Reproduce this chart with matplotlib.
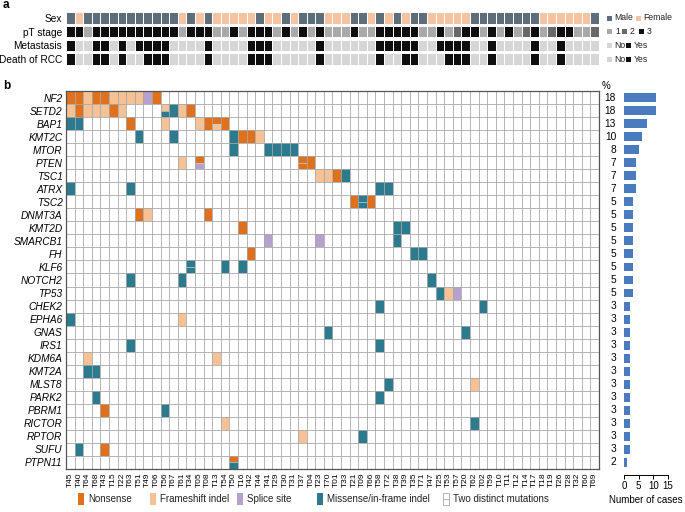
import numpy as np
import matplotlib
matplotlib.use('Agg')
import matplotlib.pyplot as plt
from matplotlib.patches import Rectangle
from matplotlib.transforms import blended_transform_factory

plt.rcParams['font.family'] = ['Liberation Sans', 'DejaVu Sans']

W, H = 685, 512

samples = ['T45', 'T40', 'T64', 'T68', 'T43', 'T15', 'T22', 'T63', 'T51', 'T49',
           'T06', 'T56', 'T67', 'T61', 'T34', 'T05', 'T08', 'T13', 'T54', 'T50',
           'T16', 'T42', 'T44', 'T41', 'T29', 'T30', 'T31', 'T37', 'T04', 'T23',
           'T70', 'T01', 'T33', 'T21', 'T09', 'T66', 'T58', 'T72', 'T38', 'T39',
           'T35', 'T71', 'T47', 'T25', 'T53', 'T57', 'T20', 'T62', 'T02', 'T59',
           'T10', 'T11', 'T12', 'T14', 'T17', 'T18', 'T19', 'T26', 'T28', 'T32',
           'T60', 'T69']

genes = ['NF2', 'SETD2', 'BAP1', 'KMT2C', 'MTOR', 'PTEN', 'TSC1', 'ATRX', 'TSC2',
         'DNMT3A', 'KMT2D', 'SMARCB1', 'FH', 'KLF6', 'NOTCH2', 'TP53', 'CHEK2',
         'EPHA6', 'GNAS', 'IRS1', 'KDM6A', 'KMT2A', 'MLST8', 'PARK2', 'PBRM1',
         'RICTOR', 'RPTOR', 'SUFU', 'PTPN11']
pct = [18, 18, 13, 10, 8, 7, 7, 7, 5, 5, 5, 5, 5, 5, 5, 5, 3, 3, 3, 3, 3, 3, 3,
       3, 3, 3, 3, 3, 2]

# clinical annotation, one char per sample
sex = 'MFMMMMMMMMMMMFMFMFFFFFMFFMFMMMFFFMMFMFMFMMFFFFFMMMMMMMMFFFFFFM'
stage = '33133333333331333113133313131311131133333113123313131231233112'
metastasis = '10011010111100001000011100000100000011111001111001000010010000'
death = '10011010011100001000011100000100000010011000111001000010010000'

# single mutations (gene, sample)
nonsense = [('NF2', 'T45'), ('NF2', 'T40'), ('NF2', 'T68'), ('NF2', 'T43'), ('NF2', 'T06'),
            ('SETD2', 'T40'), ('SETD2', 'T15'), ('SETD2', 'T34'),
            ('BAP1', 'T63'), ('BAP1', 'T08'), ('BAP1', 'T54'),
            ('KMT2C', 'T16'), ('KMT2C', 'T42'), ('PTEN', 'T04'), ('TSC1', 'T01'),
            ('TSC2', 'T21'), ('TSC2', 'T66'), ('DNMT3A', 'T51'), ('DNMT3A', 'T08'),
            ('KMT2D', 'T16'), ('FH', 'T42'), ('PBRM1', 'T43'), ('SUFU', 'T43')]
frameshift = [('NF2', 'T64'), ('NF2', 'T15'), ('NF2', 'T22'), ('NF2', 'T63'), ('NF2', 'T51'),
              ('SETD2', 'T45'), ('SETD2', 'T64'), ('SETD2', 'T68'), ('SETD2', 'T43'),
              ('SETD2', 'T22'), ('SETD2', 'T61'), ('BAP1', 'T56'), ('KMT2C', 'T44'),
              ('PTEN', 'T61'), ('TSC1', 'T23'), ('TSC1', 'T70'), ('DNMT3A', 'T49'),
              ('TP53', 'T53'), ('EPHA6', 'T61'), ('KDM6A', 'T64'), ('KDM6A', 'T13'),
              ('MLST8', 'T62'), ('RICTOR', 'T54'), ('RPTOR', 'T37')]
splice = [('NF2', 'T49'), ('SMARCB1', 'T41'), ('SMARCB1', 'T23'), ('TP53', 'T57')]
missense = [('SETD2', 'T67'), ('BAP1', 'T45'), ('BAP1', 'T40'),
            ('KMT2C', 'T51'), ('KMT2C', 'T67'), ('KMT2C', 'T50'),
            ('MTOR', 'T50'), ('MTOR', 'T41'), ('MTOR', 'T29'), ('MTOR', 'T30'), ('MTOR', 'T31'),
            ('TSC1', 'T33'), ('ATRX', 'T45'), ('ATRX', 'T63'), ('ATRX', 'T58'), ('ATRX', 'T72'),
            ('KMT2D', 'T38'), ('KMT2D', 'T39'), ('SMARCB1', 'T38'), ('FH', 'T35'), ('FH', 'T71'),
            ('KLF6', 'T54'), ('KLF6', 'T16'), ('NOTCH2', 'T63'), ('NOTCH2', 'T61'),
            ('NOTCH2', 'T47'), ('TP53', 'T25'), ('CHEK2', 'T58'), ('CHEK2', 'T02'),
            ('EPHA6', 'T45'), ('GNAS', 'T70'), ('GNAS', 'T20'), ('IRS1', 'T63'), ('IRS1', 'T58'),
            ('KMT2A', 'T64'), ('KMT2A', 'T68'), ('MLST8', 'T72'), ('PARK2', 'T68'),
            ('PARK2', 'T58'), ('PBRM1', 'T56'), ('RICTOR', 'T62'), ('RPTOR', 'T09'),
            ('SUFU', 'T40')]
# two distinct mutations in one sample (gene, sample, top, bottom)
two_distinct = [('SETD2', 'T56', 'F', 'M'), ('BAP1', 'T05', 'F', 'F'), ('BAP1', 'T13', 'N', 'F'),
                ('PTEN', 'T05', 'N', 'S'), ('PTEN', 'T37', 'N', 'N'), ('TSC2', 'T09', 'M', 'M'),
                ('KLF6', 'T34', 'M', 'M'), ('PTPN11', 'T50', 'N', 'M')]

mut_colors = {'N': '#e0701b', 'F': '#f7c196', 'S': '#b4a2cd', 'M': '#2b7a8d'}
sex_colors = {'M': '#5e6d7a', 'F': '#f3c3a3'}
stage_colors = {'1': '#a9a9a9', '2': '#686868', '3': '#0e0e0e'}
yn_colors = {'0': '#d6d6d6', '1': '#0e0e0e'}
grid_col = '#a8a8a8'


def box(l, t, r, b):
    return [l / W, 1 - b / H, (r - l) / W, (b - t) / H]


fig = plt.figure(figsize=(W / 100, H / 100), dpi=100)

# ---- a: clinical annotation
ax_a = fig.add_axes(box(66, 11, 599, 66))
ax_a.set_xlim(0, len(samples))
ax_a.set_ylim(4, 0)
tracks = [(sex, sex_colors), (stage, stage_colors), (metastasis, yn_colors), (death, yn_colors)]
for r, (vals, cmap) in enumerate(tracks):
    for i, v in enumerate(vals):
        ax_a.add_patch(Rectangle((i, r + 0.08), 1, 0.84, fc=cmap[v], ec='white', lw=0.7))
ax_a.set_yticks(np.arange(4) + 0.5, ['Sex', 'pT stage', 'Metastasis', 'Death of RCC'], fontsize=7.3)
ax_a.set_xticks([])
ax_a.tick_params(length=0, pad=3)
for s in ax_a.spines.values():
    s.set_visible(False)

# ---- b: mutation matrix
ax = fig.add_axes(box(66, 91, 599, 469))
ax.set_xlim(0, len(samples))
ax.set_ylim(len(genes), 0)
gi = {g: k for k, g in enumerate(genes)}
si = {s: k for k, s in enumerate(samples)}

for lst, code in [(nonsense, 'N'), (frameshift, 'F'), (splice, 'S'), (missense, 'M')]:
    for g, s in lst:
        ax.add_patch(Rectangle((si[s], gi[g]), 1, 1, fc=mut_colors[code], ec='none', zorder=2))
for g, s, top, bot in two_distinct:
    x, y = si[s], gi[g]
    ax.add_patch(Rectangle((x, y), 1, 0.5, fc=mut_colors[top], ec='none', zorder=2))
    ax.add_patch(Rectangle((x, y + 0.5), 1, 0.5, fc=mut_colors[bot], ec='none', zorder=2))
    ax.plot([x, x + 1], [y + 0.5, y + 0.5], color='#d0d0d0', lw=0.5, zorder=2.5)

ax.vlines(np.arange(len(samples) + 1), 0, len(genes), color=grid_col, lw=0.6, zorder=3)
ax.hlines(np.arange(len(genes) + 1), 0, len(samples), color=grid_col, lw=0.6, zorder=3)
for s in ax.spines.values():
    s.set_color('#555555')
    s.set_linewidth(0.9)
    s.set_zorder(4)
ax.set_yticks(np.arange(len(genes)) + 0.5, genes, fontsize=7.3, style='italic')
ax.set_xticks(np.arange(len(samples)) + 0.5, samples, rotation=90, fontsize=6)
ax.tick_params(length=0, pad=2.5)

# ---- bar chart of number of cases
counts = []
for g in genes:
    hit = set(s for lst in (nonsense, frameshift, splice, missense) for gg, s in lst if gg == g)
    hit |= set(s for gg, s, _, _ in two_distinct if gg == g)
    counts.append(len(hit))

ax_b = fig.add_axes(box(624, 91, 668, 469))
ax_b.barh(np.arange(len(genes)) + 0.5, counts, height=0.68, color='#4a7bbf')
ax_b.set_xlim(0, 15)
ax_b.set_ylim(len(genes), 0)
for sp in ['top', 'right', 'left']:
    ax_b.spines[sp].set_visible(False)
ax_b.spines['bottom'].set_position(('outward', 4))
ax_b.spines['bottom'].set_linewidth(0.7)
ax_b.set_yticks([])
ax_b.set_xticks([0, 5, 10, 15])
ax_b.tick_params(axis='x', labelsize=7, length=3, width=0.7, pad=1.5)
ax_b.set_xlabel('Number of cases', fontsize=7, labelpad=3)
tr = blended_transform_factory(ax_b.transAxes, ax_b.transData)
for k, p in enumerate(pct):
    ax_b.text(-0.18, k + 0.5, str(p), transform=tr, ha='right', va='center', fontsize=7.3)
ax_b.text(-0.41, -0.35, '%', transform=tr, ha='center', va='center', fontsize=7)

# ---- panel letters and legends (pixel coordinates)
ov = fig.add_axes([0, 0, 1, 1])
ov.set_xlim(0, W)
ov.set_ylim(H, 0)
ov.axis('off')
ov.text(3, 5, 'a', fontsize=8.5, fontweight='bold', va='center')
ov.text(3, 86, 'b', fontsize=8.5, fontweight='bold', va='center')


def sq(x, y, c, w=5, h=5):
    ov.add_patch(Rectangle((x, y - h / 2), w, h, fc=c, ec='none'))


def lab(x, y, t, fs=6.2):
    ov.text(x, y, t, fontsize=fs, va='center', ha='left', color='#222222')


sq(607, 18, sex_colors['M']); lab(614, 18, 'Male')
sq(636, 18, sex_colors['F']); lab(643, 18, 'Female')
sq(607, 31, stage_colors['1']); lab(615, 31, '1')
sq(622, 31, stage_colors['2']); lab(630, 31, '2')
sq(639, 31, stage_colors['3']); lab(647, 31, '3')
for yy in (45, 59):
    sq(607, yy, yn_colors['0']); lab(614, yy, 'No')
    sq(626, yy, yn_colors['1']); lab(634, yy, 'Yes')

leg_y = 499
leg = [(78, 'N', 'Nonsense'), (150, 'F', 'Frameshift indel'), (237, 'S', 'Splice site'),
       (317, 'M', 'Missense/in-frame indel')]
for x, code, t in leg:
    sq(x, leg_y, mut_colors[code], w=6, h=12)
    lab(x + 10, leg_y, t, fs=7)
ov.add_patch(Rectangle((443, leg_y - 6), 6, 12, fc='white', ec=grid_col, lw=0.6))
ov.plot([443, 449], [leg_y, leg_y], color=grid_col, lw=0.6)
lab(453, leg_y, 'Two distinct mutations', fs=7)

fig.savefig('out.png', dpi=100)
